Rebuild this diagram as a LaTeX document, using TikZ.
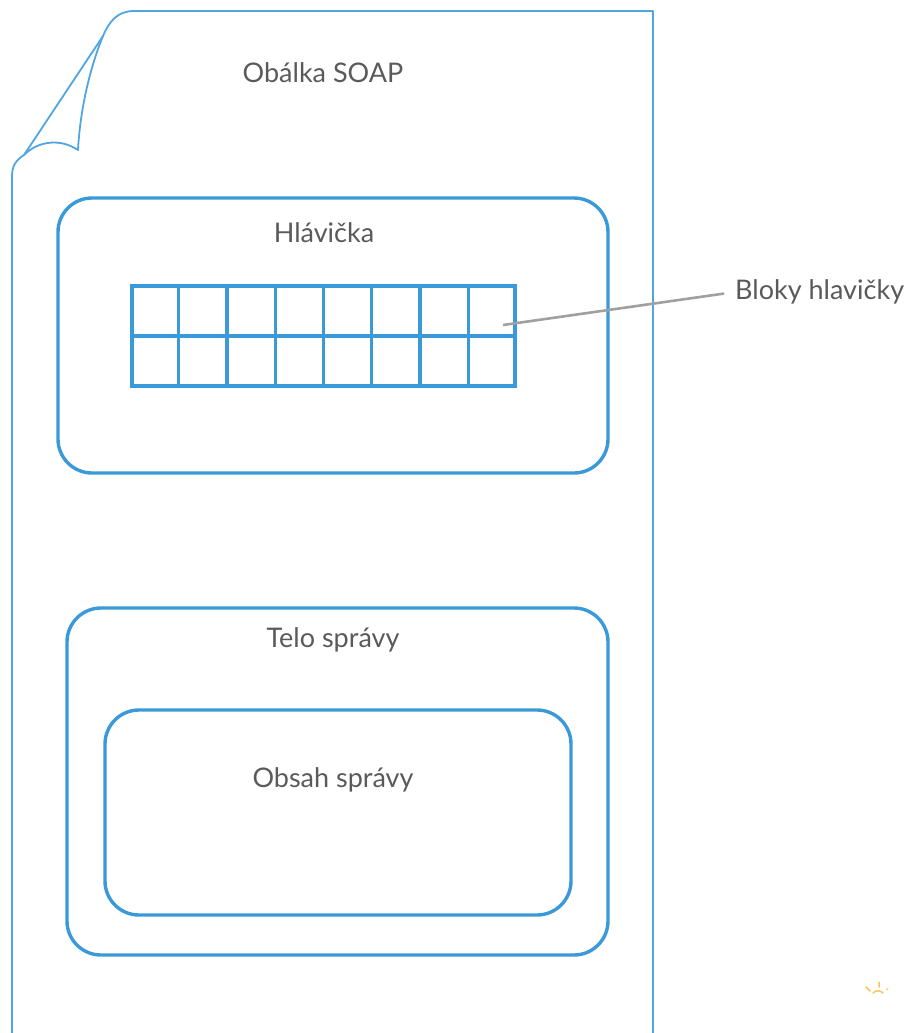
\documentclass[tikz,border=0pt]{standalone}
\usepackage{fontspec}
\setmainfont{Lato}
\usetikzlibrary{calc}
\definecolor{soapblue}{HTML}{3A9AD9}
\definecolor{pageblue}{HTML}{4FA6E0}
\definecolor{txtgray}{HTML}{5A5A5A}
\definecolor{leadgray}{HTML}{A0A0A0}
\definecolor{sunmark}{HTML}{F9C45A}
\tikzset{
  part/.style={draw=soapblue, line width=3.4pt, rounded corners=34pt, inner sep=0pt},
  captext/.style={text=txtgray, font=\fontsize{27}{32}\selectfont, inner sep=0pt},
  cellgrid/.style={draw=soapblue, line width=3.1pt, inner sep=0pt},
}
\begin{document}
\begin{tikzpicture}[x=1pt, y=-1pt]
\useasboundingbox (0,0) rectangle (906,1033);
% page outline with a curled corner
\begin{scope}
\clip (0,0) rectangle (906,1033);
\draw[pageblue, line width=1.8pt, line join=round]
  (12,1040) -- (12,176) .. controls (12,166) and (16,160) .. (24,155)
  -- (103,36) .. controls (109,22) and (117,11) .. (134,11)
  -- (653,11) -- (653,1040);
\draw[pageblue, line width=1.8pt, line join=round]
  (103,36) .. controls (89,70) and (80,112) .. (78,150)
  .. controls (60,138) and (38,141) .. (24,155);
\end{scope}
\node[captext] (envelope) at (323,73) {Obálka SOAP};
% header
\node[part, minimum width=550pt, minimum height=275pt] (header) at (333,335.5) {};
\node[captext] (headertitle) at (324,233) {Hlávička};
\node[cellgrid, minimum width=383pt, minimum height=100pt] (blocks) at (323.5,336) {};
\foreach \i in {1,...,7}
  \draw[soapblue, line width=3.1pt] ($(blocks.north west)!\i/8!(blocks.north east)$) -- ($(blocks.south west)!\i/8!(blocks.south east)$);
\draw[soapblue, line width=3.1pt] (blocks.west) -- (blocks.east);
\coordinate (blockpin) at (503,325);
\node[captext, anchor=west] (blocklabel) at (735,292) {Bloky hlavičky};
\draw[leadgray, line width=2.6pt, shorten >=11pt] (blockpin) -- (blocklabel.west);
% body
\node[part, minimum width=541pt, minimum height=347pt] (body) at (337.5,781.5) {};
\node[captext] (bodytitle) at (333,640) {Telo správy};
\node[part, minimum width=466pt, minimum height=205pt] (content) at (338,812.5) {};
\node[captext] (contenttitle) at (333,780) {Obsah správy};
% small mark in the lower right corner
\draw[sunmark, line width=1.5pt, line cap=round]
  (866,987) -- (870,991)
  (879,982) -- (879,987)
  (873,993) .. controls (876,990) and (880,990) .. (883,993)
  (887,989) -- (887.5,989.5);
\end{tikzpicture}
\end{document}
